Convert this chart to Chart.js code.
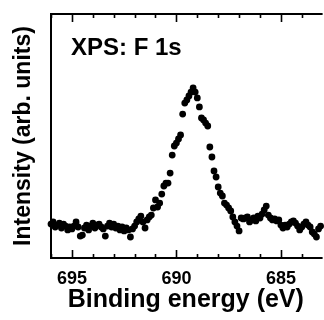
<!DOCTYPE html>
<html>
<head>
<meta charset="utf-8">
<script src="https://cdn.jsdelivr.net/npm/chart.js@4/dist/chart.umd.min.js"></script>
<style>
  html, body { margin: 0; padding: 0; background: #fff; }
  #wrap { width: 324px; height: 320px; }
</style>
</head>
<body>
<div id="wrap"><canvas id="xps"></canvas></div>
<script>
// binding energy grid (eV)
const energies = [
  696.0, 695.9, 695.8, 695.7, 695.6, 695.5, 695.4, 695.3, 695.2, 695.1,
  695.0, 694.9, 694.8, 694.7, 694.6, 694.5, 694.4, 694.3, 694.2, 694.1,
  694.0, 693.9, 693.8, 693.7, 693.6, 693.5, 693.4, 693.3, 693.2, 693.1,
  693.0, 692.9, 692.8, 692.7, 692.6, 692.5, 692.4, 692.3, 692.2, 692.1,
  692.0, 691.9, 691.8, 691.7, 691.6, 691.5, 691.4, 691.3, 691.2, 691.1,
  691.0, 690.9, 690.8, 690.7, 690.6, 690.5, 690.4, 690.3, 690.2, 690.1,
  690.0, 689.9, 689.8, 689.7, 689.6, 689.5, 689.4, 689.3, 689.2, 689.1,
  689.0, 688.9, 688.8, 688.7, 688.6, 688.5, 688.4, 688.3, 688.2, 688.1,
  688.0, 687.9, 687.8, 687.7, 687.6, 687.5, 687.4, 687.3, 687.2, 687.1,
  687.0, 686.9, 686.8, 686.7, 686.6, 686.5, 686.4, 686.3, 686.2, 686.1,
  686.0, 685.9, 685.8, 685.7, 685.6, 685.5, 685.4, 685.3, 685.2, 685.1,
  685.0, 684.9, 684.8, 684.7, 684.6, 684.5, 684.4, 684.3, 684.2, 684.1,
  684.0, 683.9, 683.8, 683.7, 683.6, 683.5, 683.4, 683.3, 683.2, 683.1
];

// intensity (arb. units)
const intensity = [
  13.9, 14.8, 12.7, 13.5, 14.3, 12.3, 13.9, 13.1, 11.5, 12.7,
  11.9, 13.1, 14.8, 12.7, 9.0, 9.4, 12.3, 13.5, 11.5, 13.1,
  14.3, 12.3, 13.5, 13.9, 12.7, 11.9, 9.0, 13.1, 14.3, 12.7,
  13.9, 12.3, 13.1, 11.5, 12.7, 11.1, 12.3, 11.5, 8.6, 11.9,
  13.1, 14.8, 16.0, 17.2, 14.8, 12.3, 15.6, 16.8, 17.6, 20.5,
  23.8, 20.9, 22.5, 26.2, 29.5, 30.7, 30.7, 34.8, 42.2, 45.9,
  47.1, 48.8, 50.4, 59.0, 63.5, 64.8, 66.4, 68.0, 69.7, 68.0,
  65.6, 61.9, 57.4, 56.6, 55.3, 54.1, 45.5, 41.4, 35.7, 33.2,
  29.1, 26.6, 25.4, 22.5, 21.7, 20.5, 19.3, 16.8, 14.8, 13.1,
  11.1, 16.4, 16.0, 16.4, 16.8, 14.8, 15.6, 16.4, 15.2, 17.2,
  16.4, 18.0, 19.7, 21.3, 17.6, 16.4, 15.6, 16.0, 15.2, 15.6,
  13.5, 12.3, 13.5, 12.7, 13.9, 14.8, 15.2, 14.3, 13.1, 11.5,
  12.7, 13.9, 14.8, 13.5, 12.7, 10.7, 9.8, 8.6, 11.9, 13.1
];

const majorTicks = [695, 690, 685];
const minorTicks = [696, 694, 693, 692, 691, 689, 688, 687, 686, 684];
const panelLabel = 'XPS: F 1s';

const FONT = '"Liberation Sans", Arial, sans-serif';

// frame with inward ticks on top and bottom, plus the panel label
const framePlugin = {
  id: 'frame',
  afterDraw(chart) {
    const { ctx, chartArea: a, scales: { x } } = chart;
    ctx.save();
    ctx.strokeStyle = '#000';
    ctx.lineWidth = 2;
    ctx.beginPath();
    ctx.moveTo(a.right + 2, a.top);
    ctx.lineTo(a.left, a.top);
    ctx.lineTo(a.left, a.bottom);
    ctx.lineTo(a.right + 2, a.bottom);
    ctx.stroke();

    ctx.lineWidth = 1.6;
    const tick = (v, len) => {
      const px = Math.round(x.getPixelForValue(v)) + 0.5;
      ctx.beginPath();
      ctx.moveTo(px, a.bottom);
      ctx.lineTo(px, a.bottom - len);
      ctx.moveTo(px, a.top);
      ctx.lineTo(px, a.top + len);
      ctx.stroke();
    };
    majorTicks.forEach(v => tick(v, 8));
    minorTicks.forEach(v => tick(v, 4));

    ctx.fillStyle = '#000';
    ctx.font = 'bold 24px ' + FONT;
    ctx.textBaseline = 'alphabetic';
    ctx.textAlign = 'left';
    ctx.fillText(panelLabel, 71, 55);
    ctx.restore();
  }
};

new Chart(document.getElementById('xps'), {
  type: 'scatter',
  data: {
    datasets: [{
      data: energies.map((e, i) => ({ x: e, y: intensity[i] })),
      backgroundColor: '#000',
      borderWidth: 0,
      pointRadius: 3.4,
      pointHoverRadius: 3.4,
      clip: false
    }]
  },
  options: {
    responsive: true,
    maintainAspectRatio: false,
    animation: false,
    layout: { padding: { top: 14, left: 0, right: 0, bottom: 0 } },
    plugins: {
      legend: { display: false },
      tooltip: { enabled: false }
    },
    scales: {
      x: {
        type: 'linear',
        reverse: true,
        min: 683.1,
        max: 696,
        afterBuildTicks: s => { s.ticks = majorTicks.map(v => ({ value: v })); },
        afterFit: s => { s.height = 62; },
        grid: { display: false, drawTicks: false },
        border: { display: false },
        ticks: {
          color: '#000',
          padding: 10,
          maxRotation: 0,
          font: { family: FONT, size: 18, weight: 'bold' }
        },
        title: {
          display: true,
          text: 'Binding energy (eV)',
          color: '#000',
          padding: { top: 0, bottom: 5 },
          font: { family: FONT, size: 25, weight: 'bold' }
        }
      },
      y: {
        min: 0,
        max: 100,
        afterFit: s => { s.width = 51; },
        grid: { display: false, drawTicks: false },
        border: { display: false },
        ticks: { display: false },
        title: {
          display: true,
          text: 'Intensity (arb. units)',
          color: '#000',
          padding: { top: 10, bottom: 0 },
          font: { family: FONT, size: 23, weight: 'bold' }
        }
      }
    }
  },
  plugins: [framePlugin]
});
</script>
</body>
</html>
